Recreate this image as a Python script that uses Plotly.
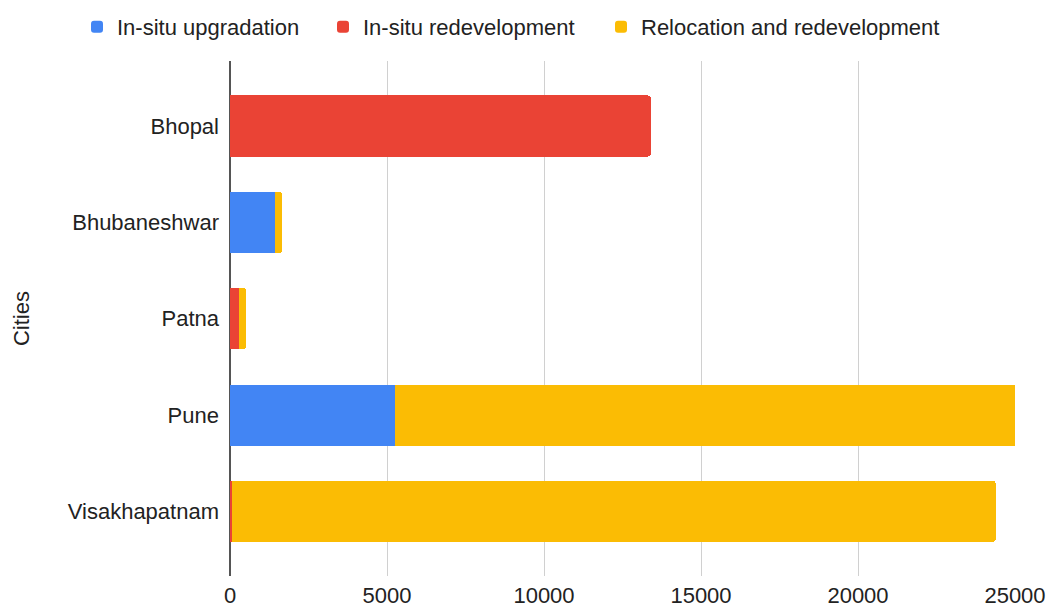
import plotly.graph_objects as go

cities = ["Bhopal", "Bhubaneshwar", "Patna", "Pune", "Visakhapatnam"]
insitu_upgradation = [0, 1430, 0, 5255, 0]
insitu_redevelopment = [13400, 0, 300, 0, 60]
relocation_redevelopment = [0, 235, 210, 20500, 24325]
x_ticks = [0, 5000, 10000, 15000, 20000, 25000]

FONT = "Liberation Sans, Arial, sans-serif"
TXT = "#222222"
FS = 22
W, H = 1047, 608

pos = list(range(len(cities)))

series = [
    ("In-situ upgradation", insitu_upgradation, "#4285F4", "legend", 77),
    ("In-situ redevelopment", insitu_redevelopment, "#EA4335", "legend2", 323),
    ("Relocation and redevelopment", relocation_redevelopment, "#FBBC04", "legend3", 601),
]

fig = go.Figure()
legends = {}
for name, vals, col, leg, lx in series:
    fig.add_trace(go.Bar(
        name=name, y=pos, x=vals, orientation="h",
        marker=dict(color=col, line=dict(width=0)),
        width=0.634, legend=leg, showlegend=True,
    ))
    legends[leg] = dict(
        orientation="h", xref="container", yref="container",
        x=lx / W, xanchor="left", y=1 - 27 / H, yanchor="middle",
        font=dict(size=FS, color=TXT), bgcolor="rgba(0,0,0,0)",
        visible=True,
    )

fig.update_layout(
    showlegend=True,
    barmode="stack",
    barcornerradius=3,
    width=W, height=H,
    margin=dict(l=230, r=32, t=61, b=32, autoexpand=False),
    plot_bgcolor="white", paper_bgcolor="white",
    font=dict(family=FONT, size=FS, color=TXT),
    xaxis=dict(
        range=[0, 25000], tickvals=x_ticks, tickformat="d",
        showgrid=True, gridcolor="#d0d0d0", gridwidth=1,
        zeroline=True, zerolinecolor="#555555", zerolinewidth=1.5,
        showline=False, ticks="", ticklabelstandoff=4,
        tickfont=dict(size=FS, color=TXT), automargin=False,
    ),
    yaxis=dict(
        range=[4.67, -0.675], tickvals=pos, ticktext=cities,
        showgrid=False, zeroline=False, showline=False, ticks="",
        ticklabelstandoff=10, automargin=False,
        tickfont=dict(size=FS, color=TXT),
        title=dict(text="Cities", font=dict(size=FS, color=TXT), standoff=32),
    ),
    **legends,
)

fig.write_html(
    "out.html",
    config={"displayModeBar": False},
    post_script="document.body.style.margin='0px';document.body.style.overflow='hidden';",
)
